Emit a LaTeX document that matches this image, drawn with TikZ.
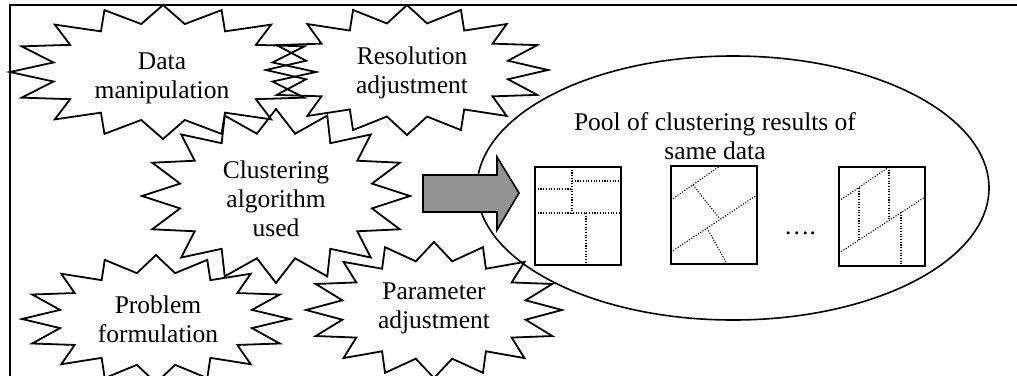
\documentclass[tikz,border=0pt]{standalone}
\usepackage{fontspec}
\setmainfont{Liberation Serif}
\usetikzlibrary{calc,shapes.geometric}
\tikzset{
  lbl/.style={align=center, font=\fontsize{25.5}{29}\selectfont, inner sep=0pt},
  burstline/.style={draw=black, line width=1.8pt, line join=miter},
  frameline/.style={line width=1.8pt},
  boxline/.style={line width=1.8pt},
  part/.style={line width=1.1pt, dash pattern=on 1.1pt off 1.6pt},
}
% #1 node, #2 dx, #3 dy, #4 rx, #5 ry
\newcommand\burstshape[5]{%
  \draw[burstline] ($(#1)+(#2,#3)+(90:#4 and #5)$)
    \foreach \k [evaluate=\k as \f using {1-0.27*mod(\k,2)}] in {1,...,31}
      { -- ($(#1)+(#2,#3)+({90+\k*11.25}:{\f*#4} and {\f*#5})$) } -- cycle;
}
\begin{document}
\begin{tikzpicture}[x=1pt,y=-1pt]
\useasboundingbox (0,0) rectangle (1017,375);
% frame
\draw[frameline] (10,376) -- (10,5) -- (1018,5);

% starbursts
\node[lbl] (dm) at (162,78) {Data\\manipulation};
\burstshape{dm}{1}{-6}{153}{67}
\node[lbl] (ra) at (412,73) {Resolution\\adjustment};
\burstshape{ra}{-5}{-3}{141}{65}
\node[lbl] (ca) at (276,199) {Clustering\\algorithm\\used};
\burstshape{ca}{0}{-3}{134}{87}
\node[lbl] (pf) at (158,319) {Problem\\formulation};
\burstshape{pf}{-2}{0}{134}{64}
\node[lbl] (pa) at (434,308) {Parameter\\adjustment};
\burstshape{pa}{0}{2}{128}{68}

% pool ellipse
\node[draw, line width=1.6pt, ellipse, minimum width=512pt, minimum height=264pt, inner sep=0pt] (pool) at (733,188) {};
\node[lbl] (pooltxt) at (715,136) {Pool of clustering results of\\same data};

% block arrow
\draw[line width=1.6pt, fill=gray!95!black!80, line join=miter]
  (423,175) -- (497,175) -- (497,157) -- (519,193) -- (497,230) -- (497,212) -- (423,212) -- cycle;

% box 1
\node[draw, boxline, minimum width=86pt, minimum height=98pt, inner sep=0pt] (b1) at (578,216) {};
\draw[part] (572,167) -- (572,213);
\draw[part] (572,181) -- (621,181);
\draw[part] (535,189) -- (572,189);
\draw[part] (535,213) -- (621,213);
\draw[part] (586,213) -- (586,265);
% box 2
\node[draw, boxline, minimum width=86pt, minimum height=98pt, inner sep=0pt] (b2) at (714,215) {};
\draw[part] (671,200) -- (720,166);
\draw[part] (693,185) -- (720,219);
\draw[part] (671,252) -- (757,195);
\draw[part] (707,228) -- (727,264);
% box 3
\node[draw, boxline, minimum width=86pt, minimum height=99pt, inner sep=0pt] (b3) at (882,216.5) {};
\draw[part] (839,201) -- (889,167);
\draw[part] (889,167) -- (889,220);
\draw[part] (839,253) -- (925,197);
\draw[part] (859,188) -- (859,240);
\draw[part] (901,212) -- (901,266);
% dots
\node[lbl] (dots) at (800,233) {….};
\end{tikzpicture}
\end{document}
